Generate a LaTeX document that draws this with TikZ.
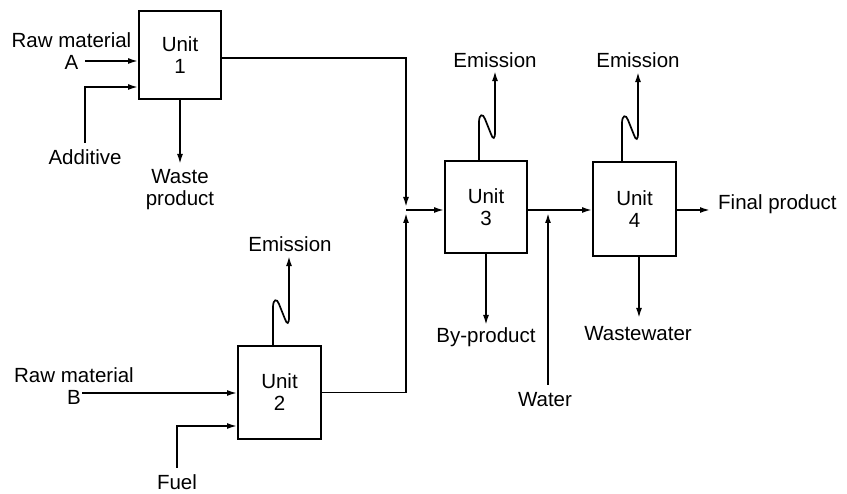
\documentclass[tikz,border=0pt]{standalone}
\usepackage{fontspec}
\setmainfont{Liberation Sans}
\usetikzlibrary{arrows.meta}
\begin{document}
\begin{tikzpicture}[x=1pt,y=1pt,
  font=\fontsize{20.5}{22}\selectfont,
  unit/.style={draw,line width=1.9pt,minimum width=82pt,minimum height=90pt,align=center,inner sep=0pt},
  flow/.style={line width=1.7pt,-{Latex[length=10pt,width=6pt]}},
  lbl/.style={align=center,inner sep=0pt},
  zig/.pic={\draw[flow] (0,0) -- (0,38) .. controls (0,46) and (4,47) .. (6,41) -- (12,26) .. controls (14,20) and (16,21) .. (16,28) -- (16,89);}]
\useasboundingbox (0,0) rectangle (847,-494);
% units
\node[unit,minimum height=88pt] (u1) at (180,-55) {Unit\\1};
\node[unit,minimum width=83pt,minimum height=93pt] (u2) at (279.5,-392.5) {Unit\\2};
\node[unit,minimum height=92pt] (u3) at (486,-207) {Unit\\3};
\node[unit,minimum width=83pt,minimum height=94pt] (u4) at (634.5,-209) {Unit\\4};
% labels
\node[lbl] (ra) at (71.5,-51) {Raw material\\A};
\node[lbl] (add) at (85,-157) {Additive};
\node[lbl] (waste) at (180,-190) {Waste\\product};
\node[lbl] (rb) at (74,-386) {Raw material\\B};
\node[lbl] (fuel) at (177,-482) {Fuel};
\node[lbl] (e2) at (290,-244) {Emission};
\node[lbl] (e3) at (495,-60) {Emission};
\node[lbl] (e4) at (638,-60) {Emission};
\node[lbl] (bp) at (486,-337) {By-product};
\node[lbl] (ww) at (638,-334) {Wastewater};
\node[lbl] (water) at (545,-400) {Water};
\node[lbl,anchor=west] (fp) at (718,-204) {Final product};
% free ends
\coordinate (aS) at (85,-61);
\coordinate (addS) at (85,-143);
\coordinate (addC) at (85,-87);
\coordinate (J) at (406,-210);
\coordinate (bS) at (82,-393);
\coordinate (fS) at (177,-468);
\coordinate (fC) at (177,-426);
\coordinate (K) at (548,-210);
\coordinate (wS) at (548,-385);
\coordinate (fpE) at (710,-210);
% connectors
\draw[flow] (aS) -- (aS -| u1.west);
\draw[flow] (addS) -- (addC) -- (addC -| u1.west);
\draw[flow] (u1.south) -- ++(0,-64);
\draw[flow] ([yshift=-3pt]u1.east) -| ([yshift=3pt]J);
\draw[flow] (u2.east) -| ([yshift=-3pt]J);
\draw[flow] (J) -- (J -| u3.west);
\draw[flow] (bS) -- (bS -| u2.west);
\draw[flow] (fS) -- (fC) -- (fC -| u2.west);
\path ([xshift=-6.5pt]u2.north) pic {zig};
\path ([xshift=-7pt]u3.north) pic {zig};
\path ([xshift=-12.5pt]u4.north) pic {zig};
\draw[flow] (u3.east |- K) -- (K -| u4.west);
\draw[flow] (wS) -- ([yshift=-3pt]K);
\draw[flow] (u3.south) -- ++(0,-71);
\draw[flow] ([xshift=4.5pt]u4.south) -- ++(0,-61);
\draw[flow] (u4.east |- fpE) -- (fpE);
\end{tikzpicture}
\end{document}
